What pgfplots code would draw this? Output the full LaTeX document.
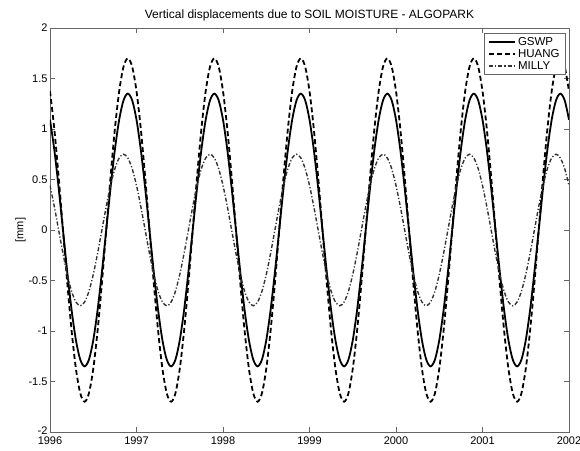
\documentclass[border=0pt]{standalone}
\usepackage{fontspec}
\setmainfont{Liberation Sans}
\usepackage{pgfplots}
\usepackage{pgfplotstable}
\pgfplotsset{compat=1.18}
\pgfplotstableread{
t g h m
1996.00 1.092 1.375 0.441
1996.05 0.794 0.999 0.232
1996.10 0.417 0.525 0
1996.15 0 0 -0.232
1996.20 -0.417 -0.525 -0.441
1996.25 -0.794 -0.999 -0.607
1996.30 -1.092 -1.375 -0.713
1996.35 -1.284 -1.617 -0.750
1996.40 -1.350 -1.700 -0.713
1996.45 -1.284 -1.617 -0.607
1996.50 -1.092 -1.375 -0.441
1996.55 -0.794 -0.999 -0.232
1996.60 -0.417 -0.525 0
1996.65 0 0 0.232
1996.70 0.417 0.525 0.441
1996.75 0.794 0.999 0.607
1996.80 1.092 1.375 0.713
1996.85 1.284 1.617 0.750
1996.90 1.350 1.700 0.713
1996.95 1.284 1.617 0.607
1997.00 1.092 1.375 0.441
1997.05 0.794 0.999 0.232
1997.10 0.417 0.525 0
1997.15 0 0 -0.232
1997.20 -0.417 -0.525 -0.441
1997.25 -0.794 -0.999 -0.607
1997.30 -1.092 -1.375 -0.713
1997.35 -1.284 -1.617 -0.750
1997.40 -1.350 -1.700 -0.713
1997.45 -1.284 -1.617 -0.607
1997.50 -1.092 -1.375 -0.441
1997.55 -0.794 -0.999 -0.232
1997.60 -0.417 -0.525 0
1997.65 0 0 0.232
1997.70 0.417 0.525 0.441
1997.75 0.794 0.999 0.607
1997.80 1.092 1.375 0.713
1997.85 1.284 1.617 0.750
1997.90 1.350 1.700 0.713
1997.95 1.284 1.617 0.607
1998.00 1.092 1.375 0.441
1998.05 0.794 0.999 0.232
1998.10 0.417 0.525 0
1998.15 0 0 -0.232
1998.20 -0.417 -0.525 -0.441
1998.25 -0.794 -0.999 -0.607
1998.30 -1.092 -1.375 -0.713
1998.35 -1.284 -1.617 -0.750
1998.40 -1.350 -1.700 -0.713
1998.45 -1.284 -1.617 -0.607
1998.50 -1.092 -1.375 -0.441
1998.55 -0.794 -0.999 -0.232
1998.60 -0.417 -0.525 0
1998.65 0 0 0.232
1998.70 0.417 0.525 0.441
1998.75 0.794 0.999 0.607
1998.80 1.092 1.375 0.713
1998.85 1.284 1.617 0.750
1998.90 1.350 1.700 0.713
1998.95 1.284 1.617 0.607
1999.00 1.092 1.375 0.441
1999.05 0.794 0.999 0.232
1999.10 0.417 0.525 0
1999.15 0 0 -0.232
1999.20 -0.417 -0.525 -0.441
1999.25 -0.794 -0.999 -0.607
1999.30 -1.092 -1.375 -0.713
1999.35 -1.284 -1.617 -0.750
1999.40 -1.350 -1.700 -0.713
1999.45 -1.284 -1.617 -0.607
1999.50 -1.092 -1.375 -0.441
1999.55 -0.794 -0.999 -0.232
1999.60 -0.417 -0.525 0
1999.65 0 0 0.232
1999.70 0.417 0.525 0.441
1999.75 0.794 0.999 0.607
1999.80 1.092 1.375 0.713
1999.85 1.284 1.617 0.750
1999.90 1.350 1.700 0.713
1999.95 1.284 1.617 0.607
2000.00 1.092 1.375 0.441
2000.05 0.794 0.999 0.232
2000.10 0.417 0.525 0
2000.15 0 0 -0.232
2000.20 -0.417 -0.525 -0.441
2000.25 -0.794 -0.999 -0.607
2000.30 -1.092 -1.375 -0.713
2000.35 -1.284 -1.617 -0.750
2000.40 -1.350 -1.700 -0.713
2000.45 -1.284 -1.617 -0.607
2000.50 -1.092 -1.375 -0.441
2000.55 -0.794 -0.999 -0.232
2000.60 -0.417 -0.525 0
2000.65 0 0 0.232
2000.70 0.417 0.525 0.441
2000.75 0.794 0.999 0.607
2000.80 1.092 1.375 0.713
2000.85 1.284 1.617 0.750
2000.90 1.350 1.700 0.713
2000.95 1.284 1.617 0.607
2001.00 1.092 1.375 0.441
2001.05 0.794 0.999 0.232
2001.10 0.417 0.525 0
2001.15 0 0 -0.232
2001.20 -0.417 -0.525 -0.441
2001.25 -0.794 -0.999 -0.607
2001.30 -1.092 -1.375 -0.713
2001.35 -1.284 -1.617 -0.750
2001.40 -1.350 -1.700 -0.713
2001.45 -1.284 -1.617 -0.607
2001.50 -1.092 -1.375 -0.441
2001.55 -0.794 -0.999 -0.232
2001.60 -0.417 -0.525 0
2001.65 0 0 0.232
2001.70 0.417 0.525 0.441
2001.75 0.794 0.999 0.607
2001.80 1.092 1.375 0.713
2001.85 1.284 1.617 0.750
2001.90 1.350 1.700 0.713
2001.95 1.284 1.617 0.607
2002.00 1.092 1.375 0.441
}\datatable
\begin{document}
\begin{tikzpicture}
\begin{axis}[
  scale only axis,
  width=519pt, height=404pt,
  xmin=1996, xmax=2002, ymin=-2, ymax=2,
  xtick={1996,1997,1998,1999,2000,2001,2002},
  xticklabels={1996,1997,1998,1999,2000,2001,2002},
  ytick={-2,-1.5,-1,-0.5,0,0.5,1,1.5,2},
  yticklabels={\raisebox{3pt}{-2},-1.5,-1,-0.5,0,0.5,1,1.5,2},
  tick align=inside,
  major tick length=5pt,
  axis line style={black!60, line width=0.8pt},
  every tick/.style={black!60, line width=0.8pt},
  tick label style={font=\fontsize{11}{12}\selectfont, black},
  xticklabel style={yshift=-1pt},
  yticklabel style={xshift=1pt},
  title={Vertical displacements due to SOIL MOISTURE - ALGOPARK},
  title style={font=\fontsize{12}{13}\selectfont, yshift=-3pt},
  ylabel={[mm]},
  ylabel style={font=\fontsize{11}{12}\selectfont, yshift=-4pt},
  legend style={at={(rel axis cs:0.994,0.988)}, anchor=north east,
    draw=black!60, line width=0.7pt, font=\fontsize{11.5}{12.5}\selectfont,
    inner xsep=4pt, inner ysep=2pt, row sep=-1.5pt},
  legend cell align=left,
  legend image code/.code={\draw[#1] (0pt,0pt) -- (26pt,0pt);},
]
\addplot[black, line width=1.8pt, smooth] table[x=t, y=g] {\datatable};
\addlegendentry{GSWP}
\addplot[black, line width=1.8pt, smooth, dash pattern=on 5pt off 3pt] table[x=t, y=h] {\datatable};
\addlegendentry{HUANG}
\addplot[black!80, line width=1.4pt, smooth, dash pattern=on 4pt off 2pt on 1.2pt off 2pt] table[x=t, y=m] {\datatable};
\addlegendentry{MILLY}
\end{axis}
\pgfresetboundingbox
\path[use as bounding box] (-50pt,-18pt) rectangle (530pt,432pt);
\end{tikzpicture}
\end{document}
